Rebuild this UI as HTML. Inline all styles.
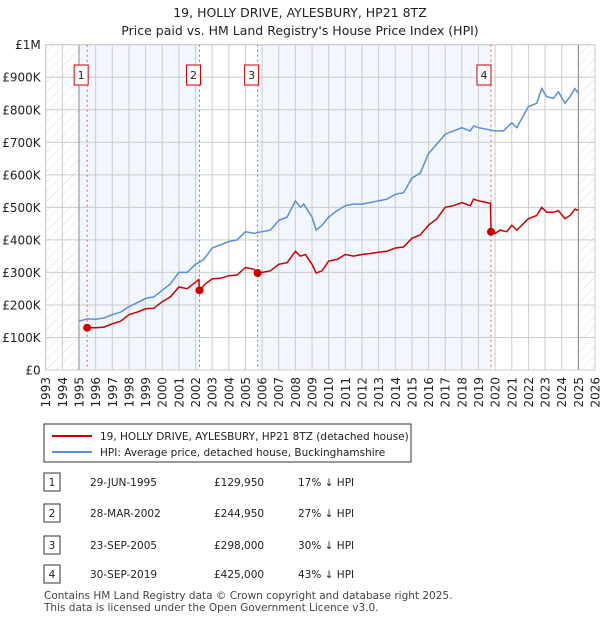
<!DOCTYPE html>
<html><head><meta charset="utf-8"><style>
body{margin:0;background:#fff;font-family:"DejaVu Sans","Liberation Sans",sans-serif;}
svg text{font-family:"DejaVu Sans","Liberation Sans",sans-serif;}
</style></head><body>
<svg id="c" width="600" height="620" xmlns="http://www.w3.org/2000/svg">
<defs><pattern id="hatch" width="7" height="7" patternUnits="userSpaceOnUse" patternTransform="rotate(45)"><line x1="0" y1="0" x2="0" y2="7" stroke="#d4d4d4" stroke-width="0.8"/></pattern></defs>
<text x="300" y="17" text-anchor="middle" font-size="12.5" fill="#222">19, HOLLY DRIVE, AYLESBURY, HP21 8TZ</text>
<text x="300" y="35" text-anchor="middle" font-size="12.5" fill="#222">Price paid vs. HM Land Registry's House Price Index (HPI)</text>
<g id="plot"></g>
<g>
<rect x="44" y="424" width="367" height="38" fill="#fff" stroke="#333"/>
<line x1="52" y1="436" x2="92" y2="436" stroke="#cc0000" stroke-width="2"/>
<text x="100" y="440" font-size="10.5" fill="#222">19, HOLLY DRIVE, AYLESBURY, HP21 8TZ (detached house)</text>
<line x1="52" y1="452" x2="92" y2="452" stroke="#5b8fd4" stroke-width="2"/>
<text x="100" y="456" font-size="10.5" fill="#222">HPI: Average price, detached house, Buckinghamshire</text>
</g>
<g id="table" font-size="10.5" fill="#222"></g>
<text x="44" y="599" font-size="10.5" fill="#444">Contains HM Land Registry data © Crown copyright and database right 2025.</text>
<text x="44" y="611" font-size="10.5" fill="#444">This data is licensed under the Open Government Licence v3.0.</text>
</svg>
<script>
const hpiYears=[1995.0,1995.5,1996,1996.5,1997,1997.5,1998,1998.5,1999,1999.5,2000,2000.5,2001,2001.5,2002,2002.5,2003,2003.5,2004,2004.5,2005,2005.5,2006,2006.5,2007,2007.5,2008,2008.3,2008.5,2009,2009.25,2009.6,2010,2010.5,2011,2011.5,2012,2012.5,2013,2013.5,2014,2014.5,2015,2015.5,2016,2016.5,2017,2017.5,2018,2018.5,2018.7,2019,2019.5,2020,2020.5,2021,2021.3,2022,2022.5,2022.8,2023.1,2023.5,2023.8,2024.2,2024.5,2024.8,2025];
const hpiValues=[150,157,156,160,170,178,195,207,220,225,245,265,300,300,325,340,375,385,395,400,425,420,425,430,460,470,520,500,510,470,430,445,470,490,505,510,510,515,520,525,540,545,590,605,665,695,725,735,745,735,750,745,740,735,735,760,745,810,820,865,840,835,855,820,840,865,850];
const propYears=[1995.49,1996,1996.5,1997,1997.5,1998,1998.5,1999,1999.5,2000,2000.5,2001,2001.5,2002,2002.2,2002.24,2002.6,2003,2003.5,2004,2004.5,2005,2005.5,2005.73,2006,2006.5,2007,2007.5,2008,2008.3,2008.6,2009,2009.25,2009.6,2010,2010.5,2011,2011.5,2012,2012.5,2013,2013.5,2014,2014.5,2015,2015.5,2016,2016.5,2017,2017.5,2018,2018.5,2018.7,2019,2019.5,2019.72,2019.75,2020,2020.3,2020.7,2021,2021.3,2022,2022.5,2022.8,2023.1,2023.5,2023.8,2024.2,2024.5,2024.8,2025];
const propValues=[130,130,132,142,150,170,178,188,190,210,225,255,250,270,278,245,265,280,282,290,292,315,310,298,300,305,325,330,365,350,355,325,298,305,335,340,355,350,355,358,362,365,375,378,405,415,445,465,500,505,515,505,525,520,515,512,425,420,430,425,445,430,465,475,500,485,485,490,465,475,495,490];
const saleLabels=["1","2","3","4"];
const saleYears=[1995.49,2002.24,2005.73,2019.75];
const saleValues=[129950,244950,298000,425000];
const saleDates=["29-JUN-1995","28-MAR-2002","23-SEP-2005","30-SEP-2019"];
const salePrices=["£129,950","£244,950","£298,000","£425,000"];
const saleDiffs=["17% ↓ HPI","27% ↓ HPI","30% ↓ HPI","43% ↓ HPI"];
const yTicks=[0,100,200,300,400,500,600,700,800,900,1000];
const yTickLabels=["£0","£100K","£200K","£300K","£400K","£500K","£600K","£700K","£800K","£900K","£1M"];
const xTicks=[1993,1994,1995,1996,1997,1998,1999,2000,2001,2002,2003,2004,2005,2006,2007,2008,2009,2010,2011,2012,2013,2014,2015,2016,2017,2018,2019,2020,2021,2022,2023,2024,2025,2026];

const NS="http://www.w3.org/2000/svg";
const X0=45.7,X1=595,Y0=370,Y1=44.7;
const xs=y=>X0+(y-1993)/(2026-1993)*(X1-X0);
const ys=v=>Y0-v/1000*(Y0-Y1);
const plot=document.getElementById('plot');
function mk(tag,attrs,parent){const e=document.createElementNS(NS,tag);for(const k in attrs)e.setAttribute(k,attrs[k]);(parent||plot).appendChild(e);return e;}
const bounds=[1995,saleYears[1],saleYears[2],saleYears[3],2025];
const fills=["#f2f6fd","#fff","#f2f6fd","#fff"];
for(let i=0;i<4;i++){const r=mk('rect',{x:xs(bounds[i]),y:Y1,width:xs(bounds[i+1])-xs(bounds[i]),height:Y0-Y1,fill:fills[i]});

}
let h1=mk('rect',{x:X0,y:Y1,width:xs(1995)-X0,height:Y0-Y1,fill:"url(#hatch)"});


let h2=mk('rect',{x:xs(2025),y:Y1,width:X1-xs(2025),height:Y0-Y1,fill:"url(#hatch)"});


yTicks.forEach((t,i)=>{mk('line',{x1:X0,x2:X1,y1:ys(t),y2:ys(t),stroke:"#ccc","stroke-width":1});
const tx=mk('text',{x:X0-5,y:ys(t)+4.5,"text-anchor":"end","font-size":12,fill:"#222"});tx.textContent=yTickLabels[i];

});
xTicks.forEach(t=>{mk('line',{x1:xs(t),x2:xs(t),y1:Y1,y2:Y0,stroke:"#ccc","stroke-width":1});
const tx=mk('text',{x:0,y:0,"text-anchor":"end","font-size":12,fill:"#222",transform:`translate(${xs(t)+4.5},${Y0+7}) rotate(-90)`});tx.textContent=t;

});
mk('line',{x1:xs(1995),x2:xs(1995),y1:Y1,y2:Y0,stroke:"#888"});
mk('line',{x1:xs(2025),x2:xs(2025),y1:Y1,y2:Y0,stroke:"#888"});
mk('rect',{x:X0,y:Y1,width:X1-X0,height:Y0-Y1,fill:"none",stroke:"#ccc"});
saleYears.forEach((y,i)=>{mk('line',{x1:xs(y),x2:xs(y),y1:Y1,y2:Y0,stroke:"#e06060","stroke-dasharray":"2,3"});
const b=mk('rect',{x:xs(y)-13+(i==3?-1:0),y:65,width:14,height:20,fill:"#fff",stroke:"#cc0000"});


const t=mk('text',{x:xs(y)-6+(i==3?-1:0),y:79,"text-anchor":"middle","font-size":11,fill:"#222"});t.textContent=saleLabels[i];

});
function line(xa,va,col,name){const p=mk('path',{d:xa.map((x,i)=>(i?'L':'M')+xs(x).toFixed(1)+','+ys(va[i]).toFixed(1)).join(''),fill:"none",stroke:col,"stroke-width":1.5});

}
line(hpiYears,hpiValues,"#5b8fd4","hpi-line");
line(propYears,propValues,"#cc0000","property-line");
saleYears.forEach((y,i)=>{const c=mk('circle',{cx:xs(y),cy:ys(saleValues[i]/1000),r:4,fill:"#cc0000"});

});
const tb=document.getElementById('table');
const rowY=[482,513,545,574];
saleLabels.forEach((l,i)=>{const y=rowY[i];
const b=mk('rect',{x:44,y:y-9,width:16,height:18,fill:"#fff",stroke:"#333"},tb);


[[52,l,'middle'],[90,saleDates[i],'start'],[214,salePrices[i],'start'],[298,saleDiffs[i],'start']].forEach(([x,s,a])=>{
const t=mk('text',{x:x,y:y+4,"text-anchor":a},tb);t.textContent=s;

});});
</script>
</body></html>
